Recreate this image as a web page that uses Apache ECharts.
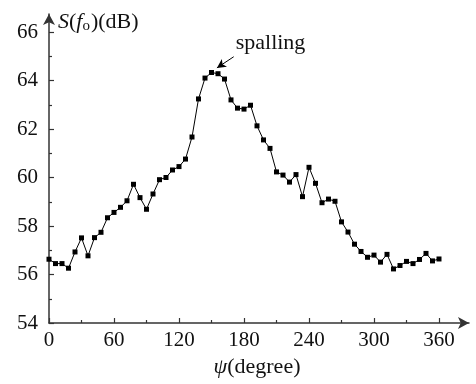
<!DOCTYPE html>
<html>
<head>
<meta charset="utf-8">
<script src="https://cdn.jsdelivr.net/npm/echarts@6/dist/echarts.min.js"></script>
<style>
  html, body { margin: 0; padding: 0; background: #fff; }
  #chart { width: 476px; height: 384px; }
</style>
</head>
<body>
<div id="chart"></div>
<script>
// psi in degrees, 6-degree steps
const angles = [0, 6, 12, 18, 24, 30, 36, 42, 48, 54, 60, 66, 72, 78, 84, 90, 96, 102, 108, 114,
  120, 126, 132, 138, 144, 150, 156, 162, 168, 174, 180, 186, 192, 198, 204, 210, 216, 222, 228, 234,
  240, 246, 252, 258, 264, 270, 276, 282, 288, 294, 300, 306, 312, 318, 324, 330, 336, 342, 348, 354, 360];
const spectrum = [56.63, 56.45, 56.45, 56.26, 56.93, 57.51, 56.77, 57.52, 57.74, 58.34, 58.56, 58.77, 59.04, 59.72, 59.17, 58.69, 59.32, 59.91, 60.0, 60.31,
  60.45, 60.76, 61.67, 63.24, 64.1, 64.33, 64.28, 64.06, 63.2, 62.86, 62.82, 62.98, 62.13, 61.55, 61.2, 60.23, 60.1, 59.81, 60.12, 59.21,
  60.42, 59.76, 58.96, 59.11, 59.02, 58.17, 57.75, 57.25, 56.95, 56.71, 56.8, 56.51, 56.83, 56.23, 56.37, 56.54, 56.45, 56.62, 56.87, 56.56, 56.64];
const xTicks = [0, 60, 120, 180, 240, 300, 360];
const yTicks = [54, 56, 58, 60, 62, 64, 66];
const noteText = "spalling";

const font = "'Liberation Serif', 'DejaVu Serif', serif";
const ink = "#111";
const axisInk = "#333";

const chart = echarts.init(document.getElementById("chart"));
chart.setOption({
  animation: false,
  grid: [
    { left: 49, right: 37, top: 32, bottom: 61 },
    { left: 49, right: 7, top: 14, bottom: 61 }
  ],
  xAxis: [
    {
      type: "value", gridIndex: 0,
      min: xTicks[0], max: xTicks[xTicks.length - 1], interval: 60,
      axisLine: { show: false },
      axisTick: { show: true, inside: true, length: 5, lineStyle: { color: axisInk, width: 1.2 } },
      minorTick: { show: true, splitNumber: 2, length: 3, lineStyle: { color: axisInk, width: 1.2 } },
      splitLine: { show: false },
      axisLabel: { color: ink, fontFamily: font, fontSize: 21, margin: 7 },
      name: "{i|ψ}(degree)", nameLocation: "middle", nameGap: 32,
      nameTextStyle: {
        color: ink, fontFamily: font, fontSize: 22, padding: [0, 0, 0, 26],
        rich: { i: { fontStyle: "italic", fontFamily: font, fontSize: 22, color: ink } }
      }
    },
    {
      type: "value", gridIndex: 1, min: 0, max: 1,
      axisLine: { show: true, symbol: ["none", "arrow"], symbolSize: [9, 11], lineStyle: { color: axisInk, width: 1.5 } },
      axisTick: { show: false }, axisLabel: { show: false }, splitLine: { show: false }
    }
  ],
  yAxis: [
    {
      type: "value", gridIndex: 0,
      min: yTicks[0], max: yTicks[yTicks.length - 1], interval: 2,
      axisLine: { show: false },
      axisTick: { show: true, inside: true, length: 5, lineStyle: { color: axisInk, width: 1.2 } },
      minorTick: { show: true, splitNumber: 2, length: 3, lineStyle: { color: axisInk, width: 1.2 } },
      splitLine: { show: false },
      axisLabel: { color: ink, fontFamily: font, fontSize: 21, margin: 11 }
    },
    {
      type: "value", gridIndex: 1, min: 0, max: 1,
      axisLine: { show: true, symbol: ["none", "arrow"], symbolSize: [9, 11], lineStyle: { color: axisInk, width: 1.5 } },
      axisTick: { show: false }, axisLabel: { show: false }, splitLine: { show: false },
      name: "{i|S}({i|f}{sub|o})(dB)", nameLocation: "end", nameGap: -8,
      nameTextStyle: {
        color: ink, fontFamily: font, fontSize: 22, align: "left", verticalAlign: "middle",
        padding: [0, 0, 0, 9],
        rich: {
          i: { fontStyle: "italic", fontFamily: font, fontSize: 22, color: ink },
          sub: { fontFamily: font, fontSize: 15, color: ink, padding: [8, 1, 0, 0] }
        }
      }
    }
  ],
  series: [{
    type: "line",
    xAxisIndex: 0, yAxisIndex: 0,
    data: angles.map((a, i) => [a, spectrum[i]]),
    symbol: "rect", symbolSize: 5,
    lineStyle: { color: "#000", width: 1 },
    itemStyle: { color: "#000" },
    markLine: {
      silent: true,
      symbol: ["none", "arrow"], symbolSize: [7, 9],
      lineStyle: { color: "#000", width: 1, type: "solid" },
      label: { show: false },
      data: [[{ coord: [170.5, 64.98] }, { coord: [155, 64.52] }]]
    }
  }]
});

// note label next to the arrow tail
const tail = chart.convertToPixel({ xAxisIndex: 0, yAxisIndex: 0 }, [170.5, 64.98]);
chart.setOption({
  graphic: [{
    type: "text", left: tail[0] + 2, top: tail[1] - 25,
    style: { text: noteText, font: "22px " + font, fill: ink }
  }]
});
</script>
</body>
</html>
